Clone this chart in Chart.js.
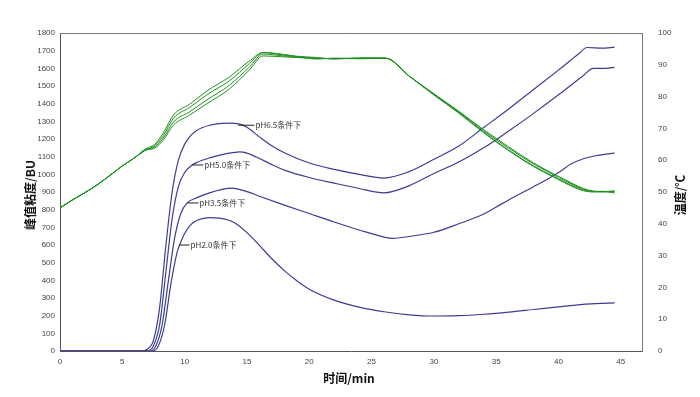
<!DOCTYPE html>
<html>
<head>
<meta charset="utf-8">
<script src="https://cdn.jsdelivr.net/npm/chart.js@4/dist/chart.umd.min.js"></script>
<style>
  html, body { margin: 0; padding: 0; background: #fff; }
  #wrap { width: 700px; height: 397px; position: relative; }
</style>
</head>
<body>
<div id="wrap"><canvas id="grafico"></canvas></div>
<script>
// 时间 (min) / 峰值粘度 (BU) 各 pH 条件
const tiempoPH65 = [0, 6.5, 7.0, 7.5, 8.0, 8.5, 9.0, 9.5, 10.0, 10.5, 11, 12, 13, 13.6, 14.4, 15, 16, 17, 18, 20, 22, 24, 26, 28, 30, 32, 34, 36, 38, 40, 41.5, 42.3, 43.5, 44.5];
const viscPH65 = [0, 0, 10, 60, 250, 600, 900, 1080, 1170, 1220, 1250, 1278, 1288, 1290, 1284, 1266, 1212, 1162, 1122, 1064, 1028, 1000, 979, 1015, 1085, 1160, 1265, 1370, 1480, 1590, 1675, 1718, 1714, 1720];

const tiempoPH50 = [0, 7.0, 7.5, 8.0, 8.5, 9.0, 9.5, 10.0, 10.6, 11, 12, 13, 14, 14.4, 15, 16, 17, 18, 20, 22, 24, 26, 28, 30, 32, 34, 36, 38, 40, 42, 42.8, 43.5, 44.5];
const viscPH50 = [0, 0, 30, 150, 450, 750, 930, 1010, 1053, 1068, 1093, 1112, 1124, 1127, 1120, 1090, 1055, 1024, 982, 950, 920, 895, 935, 1005, 1070, 1150, 1245, 1345, 1450, 1560, 1600, 1600, 1605];

const tiempoPH35 = [0, 7.2, 7.7, 8.2, 8.7, 9.2, 9.7, 10.2, 11, 12, 13, 13.8, 15, 16, 18, 20, 22, 24, 26, 26.7, 28, 30, 32, 34, 35, 36, 38, 39, 40, 41, 42, 43, 44.5];
const viscPH35 = [0, 0, 30, 150, 400, 640, 780, 838, 868, 895, 915, 922, 902, 876, 826, 778, 730, 685, 645, 638, 648, 672, 720, 775, 815, 855, 930, 968, 1010, 1058, 1088, 1105, 1120];

const tiempoPH20 = [0, 7.4, 7.9, 8.4, 8.9, 9.4, 9.6, 10.0, 10.5, 11, 12, 12.8, 14, 15, 16, 17, 18, 19, 20, 22, 24, 26, 28, 30, 32, 34, 36, 38, 40, 42, 43, 44.5];
const viscPH20 = [0, 0, 30, 150, 380, 560, 600, 665, 715, 740, 755, 752, 726, 670, 598, 522, 455, 398, 350, 288, 248, 222, 205, 198, 200, 208, 220, 235, 250, 264, 268, 272];

// 温度 (℃), cuatro registros casi superpuestos
const tiempoTemp = [0, 1, 2, 3, 4, 5, 6, 6.8, 7.6, 8.3, 9.1, 10.4, 11.8, 13.6, 15.2, 16.3, 17.9, 19, 20.6, 22, 24.3, 26.1, 28.1, 30, 32, 34, 36, 38, 40, 41, 42, 42.8, 43.5, 44.5];
const temp1 = [45, 47.5, 49.8, 52.3, 55.2, 58.2, 60.8, 63.2, 64.2, 67, 72, 75.2, 79, 83.6, 89.3, 93.4, 92.8, 92.4, 92.1, 91.9, 92.1, 92.1, 86.2, 80.7, 75.2, 69.2, 63.8, 58.8, 54.6, 52.6, 50.9, 50.2, 50.2, 50.0];
const temp2 = [45, 47.5, 49.8, 52.3, 55.2, 58.2, 60.8, 63.0, 64.6, 67.8, 73.2, 76.6, 80.6, 85.0, 90.4, 93.8, 93.1, 92.6, 91.8, 92.1, 92.0, 92.1, 86.2, 80.7, 75.0, 68.8, 63.2, 58.2, 54.1, 52.2, 50.6, 50.1, 50.1, 50.4];
const temp3 = [45, 47.5, 49.8, 52.3, 55.2, 58.2, 60.8, 63.4, 65.0, 68.6, 74.2, 77.6, 81.8, 86.2, 91.2, 93.9, 93.3, 92.7, 92.3, 91.8, 92.2, 92.1, 86.2, 80.9, 75.4, 69.6, 64.2, 59.1, 54.9, 52.9, 51.1, 50.3, 50.0, 50.1];
const temp4 = [45, 47.5, 49.8, 52.3, 55.2, 58.2, 60.8, 63.1, 63.8, 66.4, 71.0, 74.2, 77.8, 82.4, 88.4, 92.8, 92.5, 92.3, 92.0, 92.0, 91.9, 92.1, 86.2, 80.5, 74.8, 68.6, 63.0, 58.0, 53.9, 51.9, 50.4, 50.0, 50.2, 49.7];

// Etiquetas de las curvas: [texto, minuto del trazo, BU, minuto del texto]
const etiquetasPH = [
    ['pH6.5条件下', 14.3, 1278, 15.6],
    ['pH5.0条件下', 10.6, 1053, 11.5],
    ['pH3.5条件下', 10.2, 838, 11.1],
    ['pH2.0条件下', 9.6, 600, 10.4]
];

const AZUL = '#3c3c94';
const VERDE = '#1f8f1f';

const puntos = (xs, ys) => xs.map((x, i) => ({ x: x, y: ys[i] }));

const serieBU = (etiqueta, xs, ys) => ({
    label: etiqueta,
    data: puntos(xs, ys),
    borderColor: AZUL,
    borderWidth: 1.2,
    pointRadius: 0,
    cubicInterpolationMode: 'monotone',
    yAxisID: 'y'
});

const serieTemp = (etiqueta, ys) => ({
    label: etiqueta,
    data: puntos(tiempoTemp, ys),
    borderColor: VERDE,
    borderWidth: 1,
    pointRadius: 0,
    cubicInterpolationMode: 'monotone',
    yAxisID: 'y2'
});

const plugDecor = {
    id: 'decor',
    afterDatasetsDraw(chart) {
        const ctx = chart.ctx;
        const sx = chart.scales.x, sy = chart.scales.y;
        const area = chart.chartArea;
        ctx.save();
        // marco superior y derecho
        ctx.strokeStyle = '#777';
        ctx.lineWidth = 1;
        ctx.beginPath();
        ctx.moveTo(area.left, area.top + 0.5);
        ctx.lineTo(area.right + 0.5, area.top + 0.5);
        ctx.lineTo(area.right + 0.5, area.bottom);
        ctx.stroke();

        // etiquetas pH
        ctx.font = '8px "Noto Sans CJK SC", sans-serif';
        ctx.fillStyle = '#333';
        ctx.textBaseline = 'middle';
        etiquetasPH.forEach(([txt, x0, v, x1]) => {
            const px0 = sx.getPixelForValue(x0);
            const px1 = sx.getPixelForValue(x1);
            const py = sy.getPixelForValue(v);
            ctx.strokeStyle = '#222';
            ctx.beginPath();
            ctx.moveTo(px0, py);
            ctx.lineTo(px1, py);
            ctx.stroke();
            ctx.fillText(txt, px1 + 1, py);
        });

        // títulos de ejes
        ctx.fillStyle = '#111';
        ctx.font = 'bold 12px "Noto Sans CJK SC", sans-serif';
        ctx.textAlign = 'center';
        ctx.fillText('时间/min', (area.left + area.right) / 2 - 2, 378);

        ctx.translate(30, 195);
        ctx.rotate(-Math.PI / 2);
        ctx.fillText('峰值粘度/BU', 0, 0);
        ctx.restore();

        ctx.save();
        ctx.fillStyle = '#111';
        ctx.font = 'bold 12px "Noto Sans CJK SC", sans-serif';
        ctx.textAlign = 'center';
        ctx.textBaseline = 'middle';
        ctx.translate(680, 195);
        ctx.rotate(-Math.PI / 2);
        ctx.fillText('温度/℃', 0, 0);
        ctx.restore();
    }
};

const fuenteTick = { family: 'Arial, "Liberation Sans", sans-serif', size: 8 };
const sinComas = v => String(v);

new Chart(document.getElementById('grafico').getContext('2d'), {
    type: 'line',
    data: {
        datasets: [
            serieTemp('温度1', temp1),
            serieTemp('温度2', temp2),
            serieTemp('温度3', temp3),
            serieTemp('温度4', temp4),
            serieBU('pH6.5', tiempoPH65, viscPH65),
            serieBU('pH5.0', tiempoPH50, viscPH50),
            serieBU('pH3.5', tiempoPH35, viscPH35),
            serieBU('pH2.0', tiempoPH20, viscPH20)
        ]
    },
    options: {
        responsive: true,
        maintainAspectRatio: false,
        animation: false,
        layout: { padding: { top: 33, left: 0, right: 0, bottom: 0 } },
        plugins: {
            legend: { display: false },
            tooltip: { enabled: false }
        },
        scales: {
            x: {
                type: 'linear',
                min: 0,
                max: 46.7,
                grid: { display: false, drawTicks: true, tickLength: 4, color: '#555' },
                border: { color: '#555' },
                ticks: { stepSize: 5, includeBounds: false, font: fuenteTick, color: '#444', padding: 2, maxRotation: 0, callback: sinComas },
                afterBuildTicks: s => { s.ticks = s.ticks.filter(t => t.value % 5 === 0); },
                afterFit: s => { s.height = 46; }
            },
            y: {
                position: 'left',
                min: 0,
                max: 1800,
                grid: { display: false, drawTicks: true, tickLength: 3, color: '#555' },
                border: { color: '#555' },
                ticks: { stepSize: 100, font: fuenteTick, color: '#444', padding: 2, callback: sinComas },
                afterFit: s => { s.width = 60; }
            },
            y2: {
                position: 'right',
                min: 0,
                max: 100,
                grid: { display: false, drawTicks: true, tickLength: 4, color: '#555' },
                border: { color: '#777' },
                ticks: { stepSize: 10, font: fuenteTick, color: '#444', padding: 12, callback: sinComas },
                afterFit: s => { s.width = 58; }
            }
        }
    },
    plugins: [plugDecor]
});
</script>
</body>
</html>
